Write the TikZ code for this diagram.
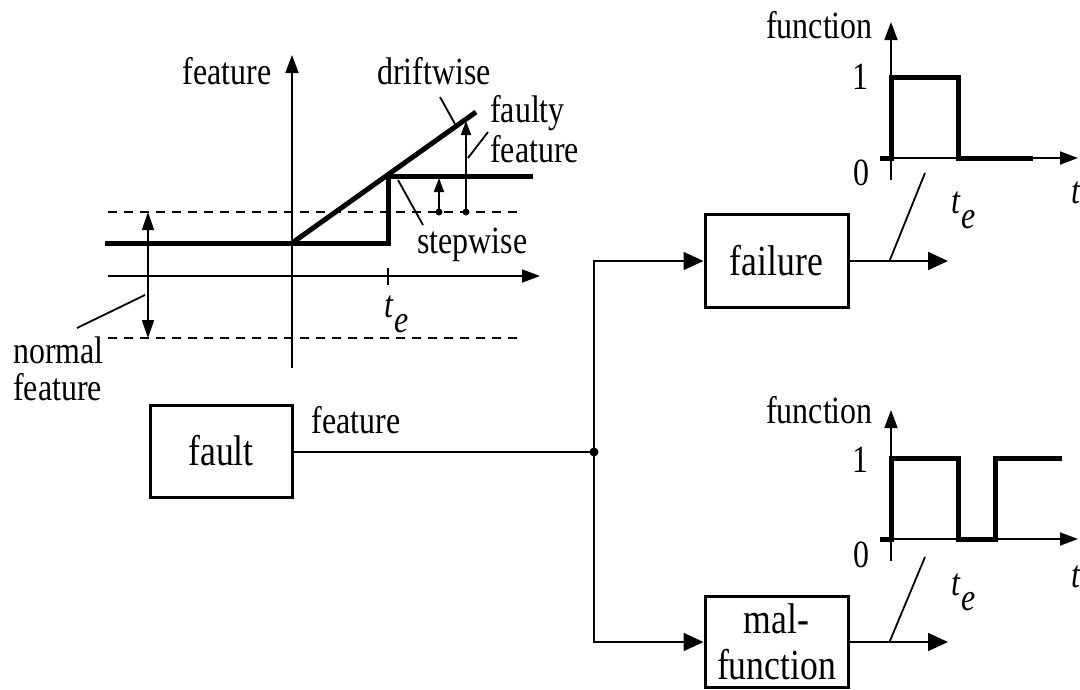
\documentclass[tikz,border=0pt]{standalone}
\usepackage{fontspec}
\setmainfont{Liberation Serif}[FakeStretch=0.83]
\usetikzlibrary{arrows.meta,calc}
\newcommand{\tesub}{\textit{t}\kern1pt\raisebox{-15pt}{\textit{e}}}
\begin{document}
\begin{tikzpicture}[x=1pt,y=-1pt,
  thinln/.style={line width=1.8pt},
  boldln/.style={line width=5pt},
  arr/.style={-{Triangle[length=18pt,width=13pt]}},
  bigarr/.style={-{Triangle[length=20pt,width=18pt]}},
  smallarr/.style={-{Triangle[length=14pt,width=10pt]}},
  dashln/.style={line width=1.6pt, dash pattern=on 9pt off 7pt},
  lbl/.style={font=\fontsize{38.5}{44}\selectfont, inner sep=0pt, anchor=base},
  box/.style={draw, line width=3pt, inner sep=0pt, font=\fontsize{43}{46}\selectfont, align=center}
]
\useasboundingbox (0,0) rectangle (1080,689);

% ---------- top-left feature plot ----------
\draw[thinln, arr] (292,368) -- (292,55);
\draw[thinln, arr] (108,276) -- (540,276);
\draw[thinln] (388,268) -- (388,285);
\draw[dashln] (108,212) -- (523,212);
\draw[dashln] (108,338) -- (523,338);
\draw[boldln] (105,243) -- (388,243) -- (388,176) -- (533,176);
\draw[boldln] (292,243) -- (476,112);
\draw[thinln, {Triangle[length=18pt,width=12pt]}-{Triangle[length=18pt,width=12pt]}] (148,212) -- (148,338);
\fill (439,212) circle (3.5);
\fill (466,212) circle (3.5);
\draw[thinln, smallarr] (439,212) -- (439,178);
\draw[thinln, smallarr] (466,212) -- (466,121);

\node[lbl] (featax) at (227,84) {feature};
\node[lbl] (drift) at (434,84) {driftwise};
\node[lbl, anchor=base west] (faulty) at (490,122) {faulty};
\node[lbl, anchor=base west] (faultyb) at (490,162) {feature};
\node[lbl, anchor=base west] (step) at (417,253) {stepwise};
\node[lbl, anchor=base west] (te1) at (384,317) {\tesub};
\node[lbl, anchor=base west] (norm) at (13,363) {normal};
\node[lbl, anchor=base west] (normb) at (13,400) {feature};

\draw[thinln] (440,97) -- (455,124);
\draw[thinln] (488,132) -- (468,158);
\draw[thinln] (398,180) -- (423,225);
\draw[thinln] (77,328) -- (145,295);

% ---------- block diagram ----------
\node[box, minimum width=142pt, minimum height=92pt] (fault) at (221,451) {fault};
\node[box, minimum width=143pt, minimum height=93pt] (failure) at (776.5,261) {failure};
\node[box, minimum width=143pt, minimum height=91pt] (malf) at (776.5,642) {mal-\\function};
\coordinate (split) at (594,452);
\coordinate (fout) at (948,261);
\coordinate (mout) at (948,642);
\coordinate (fmark) at (925,173);
\coordinate (mmark) at (925,557);

\draw[thinln] (fault.east |- split) -- (split);
\fill (split) circle (4.5);
\draw[thinln, bigarr] (split) |- (failure.west);
\draw[thinln, bigarr] (split) |- (malf.west);
\draw[thinln, bigarr] (failure.east) -- (fout);
\draw[thinln, bigarr] (malf.east) -- (mout);
\draw[thinln] ($(failure.east)+(40,0)$) -- (fmark);
\draw[thinln] ($(malf.east)+(40,0)$) -- (mmark);
\node[lbl] (featlbl) at (356,433) {feature};

% ---------- top-right function plot (failure) ----------
\draw[thinln, arr] (891,180) -- (891,22);
\draw[thinln, arr] (880,158) -- (1078,158);
\draw[boldln] (880,158) -- (891,158) -- (891,77) -- (958,77) -- (958,158) -- (1033,158);
\node[lbl, anchor=base east] (fn1) at (873,38) {function};
\node[lbl, anchor=base east] (one1) at (869,89) {1};
\node[lbl, anchor=base east] (zero1) at (870,185) {0};
\node[lbl, anchor=base west] (te2) at (951,213) {\tesub};
\node[lbl, anchor=base west] (t2) at (1071,203) {\textit{t}};

% ---------- bottom-right function plot (malfunction) ----------
\draw[thinln, arr] (891,561) -- (891,410);
\draw[thinln, arr] (880,539) -- (1078,539);
\draw[boldln] (880,539) -- (891,539) -- (891,458) -- (958,458) -- (958,539) -- (995,539) -- (995,458) -- (1062,458);
\node[lbl, anchor=base east] (fn2) at (873,423) {function};
\node[lbl, anchor=base east] (one2) at (869,472) {1};
\node[lbl, anchor=base east] (zero2) at (870,567) {0};
\node[lbl, anchor=base west] (te3) at (951,595) {\tesub};
\node[lbl, anchor=base west] (t3) at (1071,587) {\textit{t}};
\end{tikzpicture}
\end{document}
